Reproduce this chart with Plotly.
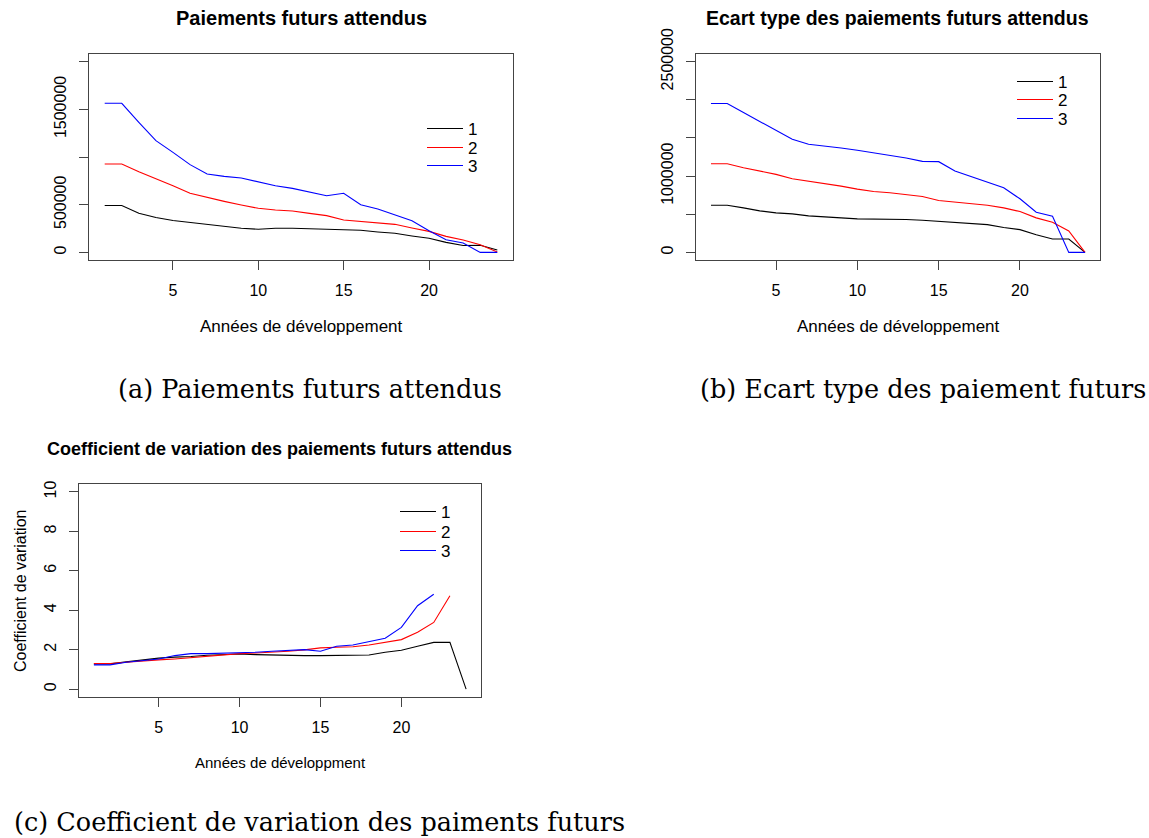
import plotly.graph_objects as go

W, H = 1149, 838

annees = list(range(1, 25))

# (a) Paiements futurs attendus
paiements_1 = [492000, 492000, 411000, 365000, 334000, 313000, 288000, 271000, 253000, 242000,
               253000, 253000, 246000, 246000, 235000, 232000, 214000, 200000, 172000, 148000,
               105000, 72000, 75000, 25000]
paiements_2 = [926000, 926000, 846000, 776000, 699000, 619000, 573000, 535000, 497000, 462000,
               444000, 434000, 409000, 385000, 339000, 325000, 315000, 294000, 255000, 220000,
               168000, 129000, 80000, 5000]
paiements_3 = [1563000, 1563000, 1364000, 1171000, 1049000, 920000, 822000, 797000, 780000, 741000,
               699000, 671000, 636000, 594000, 620000, 500000, 455000, 392000, 332000, 227000,
               133000, 98000, 0, 0]

# (b) Ecart type des paiements futurs attendus
ecart_1 = [618000, 618000, 583000, 544000, 518000, 504000, 478000, 461000, 452000, 439000,
           439000, 439000, 430000, 421000, 408000, 395000, 382000, 364000, 325000, 298000,
           232000, 175000, 175000, 0]
ecart_2 = [1162000, 1162000, 1110000, 1066000, 1022000, 965000, 934000, 904000, 868000, 829000,
           798000, 781000, 754000, 732000, 680000, 662000, 645000, 618000, 583000, 535000,
           452000, 395000, 281000, 0]
ecart_3 = [1952000, 1952000, 1833000, 1715000, 1592000, 1482000, 1417000, 1395000, 1368000, 1338000,
           1307000, 1276000, 1237000, 1193000, 1189000, 1066000, 991000, 921000, 847000, 702000,
           526000, 474000, 0, 0]

# (c) Coefficient de variation
cv_1 = [1.28, 1.28, 1.38, 1.48, 1.57, 1.62, 1.65, 1.72, 1.75, 1.78,
        1.75, 1.73, 1.70, 1.70, 1.70, 1.70, 1.73, 1.73, 1.87, 1.97,
        2.17, 2.37, 2.37, 0.0]
cv_2 = [1.30, 1.30, 1.36, 1.43, 1.48, 1.53, 1.60, 1.67, 1.73, 1.80,
        1.83, 1.87, 1.92, 1.99, 2.09, 2.12, 2.15, 2.24, 2.37, 2.51,
        2.88, 3.38, 4.73, None]
cv_3 = [1.23, 1.23, 1.36, 1.46, 1.53, 1.70, 1.80, 1.80, 1.82, 1.85,
        1.87, 1.92, 1.95, 2.00, 1.92, 2.17, 2.24, 2.41, 2.58, 3.13,
        4.23, 4.81, None, None]

series_names = ["1", "2", "3"]
series_colors = ["#000000", "#FF0000", "#0000FF"]

x_ticks = [5, 10, 15, 20]
ya_ticks = [0, 500000, 1000000, 1500000, 2000000]
ya_text = ["0", "500000", "", "1500000", ""]
yb_ticks = [0, 500000, 1000000, 1500000, 2000000, 2500000]
yb_text = ["0", "", "1000000", "", "", "2500000"]
yc_ticks = [0, 2, 4, 6, 8, 10]
yc_text = ["0", "2", "4", "6", "8", "10"]

SANS = "Liberation Sans, Arial, sans-serif"
SERIF = "DejaVu Serif, serif"


def px_x(p):
    return p / W


def px_y(p):
    return 1 - p / H


fig = go.Figure()

# legend anchor points (left x of entry, centre y of each row) per panel
legend_pos = [
    (422, [129, 148, 166]),
    (1012, [82, 100, 119]),
    (395, [512, 532, 551]),
]

panels = [
    ("x", "y", [paiements_1, paiements_2, paiements_3]),
    ("x2", "y2", [ecart_1, ecart_2, ecart_3]),
    ("x3", "y3", [cv_1, cv_2, cv_3]),
]
legend_layout = {}
for p, (xa, ya, data) in enumerate(panels):
    lx, rows = legend_pos[p]
    for i, (name, col, vals) in enumerate(zip(series_names, series_colors, data)):
        k = i * 3 + p + 1  # legend id numbered row by row
        lg = "legend" if k == 1 else f"legend{k}"
        fig.add_trace(go.Scatter(
            x=annees, y=vals, mode="lines", name=name,
            line=dict(color=col, width=1.1), xaxis=xa, yaxis=ya, legend=lg,
            connectgaps=False,
        ))
        legend_layout[lg] = dict(
            bgcolor="rgba(0,0,0,0)", borderwidth=0,
            font=dict(family=SANS, size=17, color="#000000"),
            xanchor="left", yanchor="middle", itemwidth=36,
            x=px_x(lx), y=px_y(rows[i]),
        )

axis_common = dict(
    showgrid=False, zeroline=False, showline=True, mirror=True,
    linecolor="#444444", linewidth=1, ticks="outside", ticklen=9,
    tickcolor="#444444", tickwidth=1, automargin=False,
    tickfont=dict(family=SANS, size=16, color="#000000"),
    ticklabelstandoff=7,
)


def xaxis_cfg(dom, anchor):
    return dict(axis_common, domain=dom, anchor=anchor, range=[1 - 0.92, 24 + 0.92],
                tickvals=x_ticks)


def yaxis_cfg(dom, anchor, lo, hi, vals, text):
    span = hi - lo
    return dict(axis_common, domain=dom, anchor=anchor,
                range=[lo - 0.04 * span, hi + 0.04 * span],
                tickvals=vals, ticktext=text, tickangle=-90)


fig.update_layout(
    width=W, height=H,
    margin=dict(l=0, r=0, t=0, b=0, autoexpand=False),
    paper_bgcolor="white", plot_bgcolor="white",
    xaxis=xaxis_cfg([px_x(89), px_x(513)], "y"),
    yaxis=yaxis_cfg([px_y(260), px_y(54)], "x", 0, 2000000, ya_ticks, ya_text),
    xaxis2=xaxis_cfg([px_x(696), px_x(1100)], "y2"),
    yaxis2=yaxis_cfg([px_y(260), px_y(54)], "x2", 0, 2500000, yb_ticks, yb_text),
    xaxis3=xaxis_cfg([px_x(79), px_x(481)], "y3"),
    yaxis3=yaxis_cfg([px_y(697), px_y(484)], "x3", 0, 10, yc_ticks, yc_text),
    showlegend=True,
    **legend_layout,
)

annotations = [
    # panel titles
    dict(text="<b>Paiements futurs attendus</b>", x=301, y=18, size=20),
    dict(text="<b>Ecart type des paiements futurs attendus</b>", x=897, y=18, size=19.5),
    dict(text="<b>Coefficient de variation des paiements futurs attendus</b>", x=279, y=449, size=18),
    # axis titles
    dict(text="Années de développement", x=301, y=327, size=17),
    dict(text="Années de développement", x=898, y=327, size=17),
    dict(text="Années de développment", x=280, y=762, size=15),
]
for a in annotations:
    fig.add_annotation(text=a["text"], x=px_x(a["x"]), y=px_y(a["y"]), xref="paper", yref="paper",
                       xanchor="center", yanchor="middle", showarrow=False,
                       font=dict(family=SANS, size=a["size"], color="#000000"))

fig.add_annotation(text="Coefficient de variation", x=px_x(20), y=px_y(591),
                   xref="paper", yref="paper", xanchor="center", yanchor="middle",
                   showarrow=False, textangle=-90,
                   font=dict(family=SANS, size=16, color="#000000"))

captions = [
    ("(a) Paiements futurs attendus", 310, 389),
    ("(b) Ecart type des paiement futurs", 923, 389),
    ("(c) Coefficient de variation des paiments futurs", 319, 822),
]
for t, cx, cy in captions:
    fig.add_annotation(text=t, x=px_x(cx), y=px_y(cy), xref="paper", yref="paper",
                       xanchor="center", yanchor="middle", showarrow=False,
                       font=dict(family=SERIF, size=25.5, color="#000000"))

fig.write_html("out.html")
